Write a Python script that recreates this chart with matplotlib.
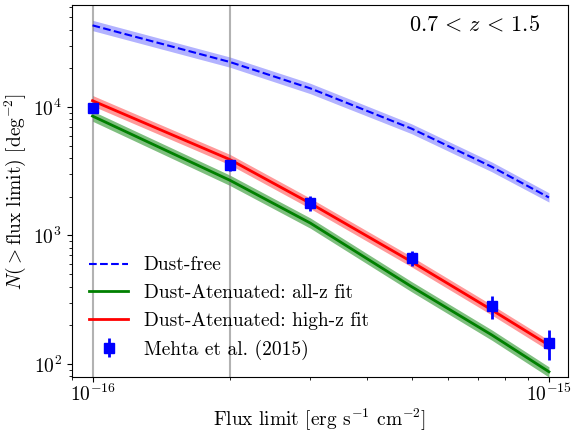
import numpy as np
import matplotlib
matplotlib.use('Agg')
import matplotlib.pyplot as plt
from matplotlib.ticker import NullFormatter

plt.rcParams['font.family'] = 'serif'
plt.rcParams['font.serif'] = ['cmr10', 'DejaVu Serif']
plt.rcParams['mathtext.fontset'] = 'cm'
plt.rcParams['axes.formatter.use_mathtext'] = True

# flux limits [erg s^-1 cm^-2]
flux = [1e-16, 2e-16, 3e-16, 5e-16, 7.5e-16, 1e-15]

# dust-free counts and band
dustfree = [43200, 22400, 13970, 6790, 3420, 1977]
dustfree_lo = [39300, 20400, 12700, 6200, 3130, 1820]
dustfree_hi = [47300, 24500, 15300, 7400, 3730, 2150]

# dust attenuated, all-z fit
allz = [8500, 2690, 1250, 400, 168, 87]
allz_lo = [7750, 2450, 1140, 365, 153, 79]
allz_hi = [9300, 2950, 1370, 438, 184, 95]

# dust attenuated, high-z fit
highz = [11200, 3900, 1780, 625, 263, 140]
highz_lo = [10200, 3550, 1620, 570, 240, 127]
highz_hi = [12300, 4280, 1950, 685, 288, 153]

# Mehta et al. (2015)
mehta = [9800, 3550, 1795, 670, 282, 146]
mehta_err = [300, 350, 240, 86, 58, 39]

vlines = [1e-16, 2e-16]

fig = plt.figure(figsize=(5.73, 4.33), dpi=100)
ax = fig.add_axes([0.125, 0.129, 0.866, 0.859])

for v in vlines:
    ax.axvline(v, color='gray', alpha=0.6, lw=1.5)

ax.fill_between(flux, dustfree_lo, dustfree_hi, color='blue', alpha=0.3, lw=0)
ax.plot(flux, dustfree, '--', color='blue', lw=1.5, label='Dust-free')

ax.fill_between(flux, allz_lo, allz_hi, color='green', alpha=0.5, lw=0)
ax.plot(flux, allz, '-', color='green', lw=2, label='Dust-Atenuated: all-z fit')

ax.fill_between(flux, highz_lo, highz_hi, color='red', alpha=0.4, lw=0)
ax.plot(flux, highz, '-', color='red', lw=2, label='Dust-Atenuated: high-z fit')

ax.errorbar(flux, mehta, yerr=mehta_err, fmt='s', color='blue', ms=7,
            elinewidth=2, capsize=0, label='Mehta et al. (2015)')

ax.set_xscale('log')
ax.set_yscale('log')
ax.set_xlim(0.9e-16, 1.1e-15)
ax.set_ylim(79, 6.2e4)
ax.xaxis.set_minor_formatter(NullFormatter())
ax.tick_params(labelsize=14)
ax.tick_params(axis='x', which='both', pad=1.5)

ax.set_xlabel(r'Flux limit [erg s$^{-1}$ cm$^{-2}$]', fontsize=14, labelpad=1)
ax.set_ylabel(r'$N(>$flux limit$)$ [deg$^{-2}$]', fontsize=14)
ax.text(0.945, 0.975, r'$0.7\,<\,z\,<\,1.5$', transform=ax.transAxes,
        ha='right', va='top', fontsize=16)

ax.legend(loc='lower left', frameon=False, fontsize=14)

plt.savefig('out.png', dpi=100)
